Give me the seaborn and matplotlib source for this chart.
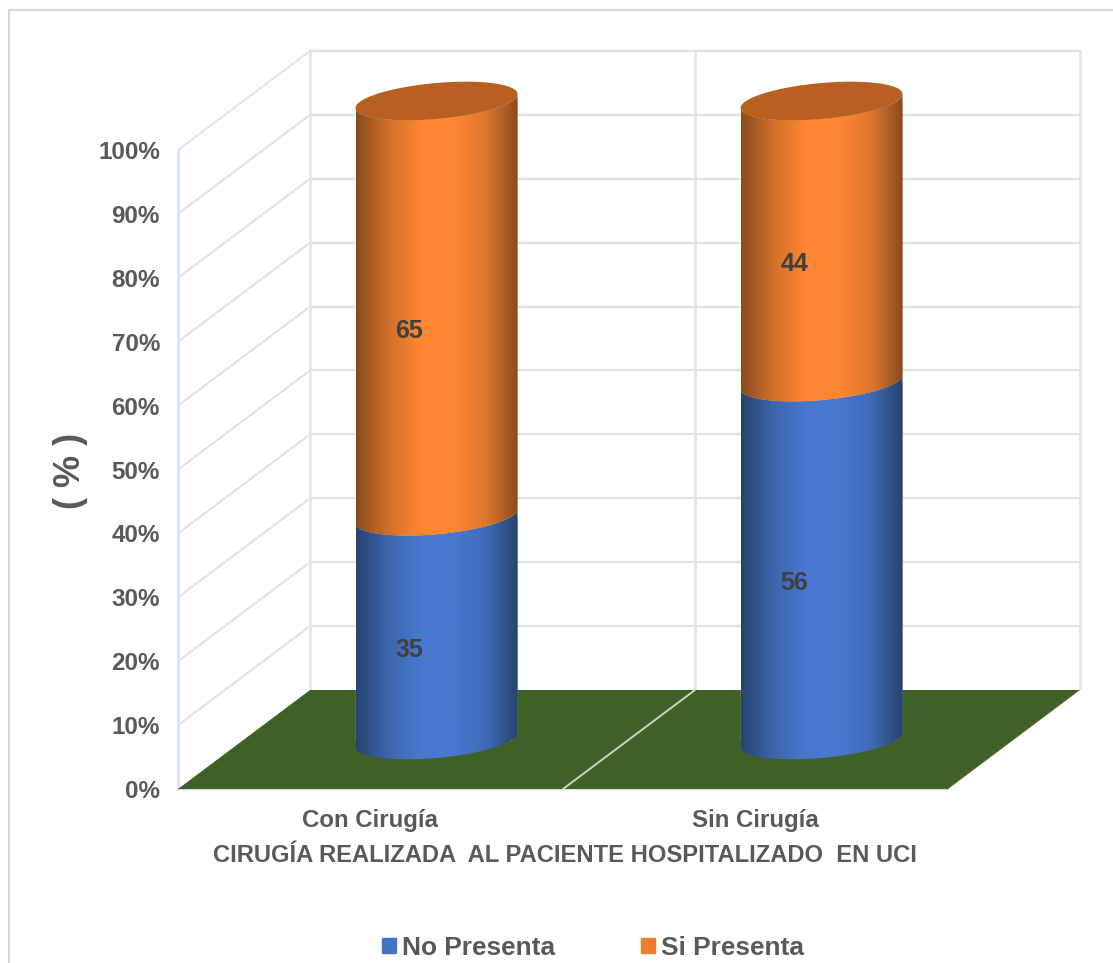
import numpy as np
import pandas as pd
import matplotlib.pyplot as plt
import seaborn as sns
from matplotlib.colors import LinearSegmentedColormap
from matplotlib.lines import Line2D
from matplotlib.patches import Patch, PathPatch
from matplotlib.path import Path
from matplotlib.transforms import Affine2D

# Data
categories = ['Con Cirugía', 'Sin Cirugía']
no_presenta = [35, 56]
si_presenta = [65, 44]
y_ticks = [0, 10, 20, 30, 40, 50, 60, 70, 80, 90, 100]

sns.set_style('white')
plt.rcParams['font.family'] = ['Liberation Sans', 'DejaVu Sans']
plt.rcParams['font.weight'] = 'bold'

GREY = '#595959'
W, H = 1113, 963

# 3D look: front plane is 770 x 639 px, the back wall sits 132 px right and 99 px up
px_x = 385.0   # px per category
px_y = 6.39    # px per percent
depth_x = 132 / px_x
depth_y = 99 / px_y
mid_x = depth_x / 2
mid_y = 49 / px_y

fig = plt.figure(figsize=(W / 100, H / 100), dpi=100)
ax = fig.add_axes([178 / W, 1 - 789 / H, (770 + 132) / W, (639 + 99) / H])
ax.patch.set_alpha(0)

df = pd.DataFrame({'cat': categories, 'no': no_presenta, 'si': si_presenta})
bar_width = 162 / px_x
sns.barplot(data=df, x='cat', y='no', color='#4472C4', width=bar_width, saturation=1, ax=ax, zorder=5)
sns.barplot(data=df, x='cat', y='si', color='#ED7D31', width=bar_width, saturation=1, ax=ax, zorder=5,
            bottom=df['no'].values)

n = len(categories)
no_bars = list(ax.patches[:n])
si_bars = list(ax.patches[n:2 * n])

x_left, x_right = -0.5, 1.5

# walls
wall = '#e2e2e2'
edge = '#dbe5f3'
for v in y_ticks[1:]:
    ax.plot([x_left + depth_x, x_right + depth_x], [v + depth_y] * 2, color=wall, lw=1.7, zorder=1, clip_on=False)
    ax.plot([x_left, x_left + depth_x], [v, v + depth_y], color=edge if v == 100 else wall, lw=1.5, zorder=1,
            clip_on=False)
ax.vlines([x_left + depth_x, 0.5 + depth_x, x_right + depth_x], depth_y, 100 + depth_y,
          color='#e0e2e6', lw=1.8, zorder=1, clip_on=False)
ax.plot([x_left, x_left], [0, 100], color=edge, lw=2.2, zorder=1, clip_on=False)

# floor
ax.plot([x_left, x_right], [0, 0], color='#d5dde3', lw=1.6, zorder=1, clip_on=False)
ax.fill([x_left, x_right, x_right + depth_x, x_left + depth_x], [0, 0, depth_y, depth_y],
        color='#3f6128', lw=0, zorder=2)
ax.plot([0.5, 0.5 + depth_x], [0, depth_y], color='#ccd3c6', lw=1.4, zorder=3)

# cylinders
blue_map = LinearSegmentedColormap.from_list('b', ['#27436f', '#3c66ad', '#4878cf', '#4878cf', '#3f6cb8', '#27436f'])
orange_map = LinearSegmentedColormap.from_list('o', ['#8a4c1e', '#d0702b', '#ff8731', '#ff8731', '#e0782e', '#8a4c1e'])
ramp = np.linspace(0, 1, 256).reshape(1, -1)
tilt = 7 / px_y
semi = 18 / px_y


def front_arc(cx, level, half, reverse=False):
    t = np.linspace(np.pi, 2 * np.pi, 60)
    if reverse:
        t = t[::-1]
    return np.column_stack([cx + half * np.cos(t), level + tilt * np.cos(t) + semi * np.sin(t)])


def cylinder_segment(bar, cmap):
    half = bar.get_width() / 2
    cx = bar.get_x() + half + mid_x
    low = bar.get_y() + mid_y
    high = low + bar.get_height()
    outline = np.vstack([front_arc(cx, low, half), front_arc(cx, high, half, reverse=True)])
    outline = np.vstack([outline, outline[:1]])
    clip = PathPatch(Path(outline), transform=ax.transData, fc='none', lw=0)
    bar.set_transform(Affine2D().translate(mid_x, mid_y) + ax.transData)
    bar.set_clip_path(clip)
    im = ax.imshow(ramp, cmap=cmap, aspect='auto', zorder=6, interpolation='bilinear',
                   extent=[cx - half, cx + half, low - semi - tilt, high + semi + tilt])
    im.set_clip_path(clip)
    return cx, high, half


for bar, val in zip(no_bars, no_presenta):
    cylinder_segment(bar, blue_map)
    ax.text(bar.get_x() + bar.get_width() / 2 + 39 / px_x, val / 2 + 27 / px_y, str(val),
            ha='center', va='center', fontsize=18, color='#404040', zorder=9)

for bar, base, val in zip(si_bars, no_presenta, si_presenta):
    cx, high, half = cylinder_segment(bar, orange_map)
    t = np.linspace(0, 2 * np.pi, 120)
    ax.fill(cx + half * np.cos(t), high + tilt * np.cos(t) + semi * np.sin(t),
            color='#b85f22', lw=0, zorder=7)
    ax.text(bar.get_x() + bar.get_width() / 2 + 39 / px_x, base + val / 2 + 27 / px_y, str(val),
            ha='center', va='center', fontsize=18, color='#404040', zorder=9)

ax.set_xlim(x_left, x_right + depth_x)
ax.set_ylim(0, 100 + depth_y)

# axes and labels
sns.despine(ax=ax, left=True, bottom=True)
ax.set_yticks(y_ticks)
ax.set_yticklabels([f'{v}%' for v in y_ticks], fontsize=17.4, color=GREY, fontweight='bold')
ax.set_xticks(range(n))
ax.set_xticklabels(categories, fontsize=17.3, color=GREY, fontweight='bold')
ax.tick_params(axis='y', length=0, pad=13)
ax.tick_params(axis='x', length=0, pad=14.5)
ax.set_xlabel('CIRUGÍA REALIZADA  AL PACIENTE HOSPITALIZADO  EN UCI', fontsize=17.1, color=GREY, fontweight='bold')
ax.xaxis.set_label_coords(565 / W, 1 - 855 / H, transform=fig.transFigure)
ax.xaxis.label.set_va('center')
ax.set_ylabel('( % )', fontsize=26, color=GREY, fontweight='bold')
ax.yaxis.set_label_coords(70 / W, 1 - 471 / H, transform=fig.transFigure)
ax.yaxis.label.set_va('center')

handles = [Patch(color='#4472C4', label='No Presenta'), Patch(color='#ED7D31', label='Si Presenta')]
fig.legend(handles=handles, loc='center', bbox_to_anchor=(593 / W, 1 - 948 / H), ncol=2, frameon=False,
           prop={'size': 18.9, 'weight': 'bold'}, labelcolor=GREY, handlelength=0.53, handleheight=0.5,
           handletextpad=0.23, columnspacing=3.28, borderpad=0, borderaxespad=0)

# chart area border, cut off by the image on the right and bottom
fig.add_artist(Line2D([9 / W, 9 / W, 1], [0, 1 - 10 / H, 1 - 10 / H], color='#d9d9d9', lw=1.5))

fig.savefig('out.png', dpi=100)
